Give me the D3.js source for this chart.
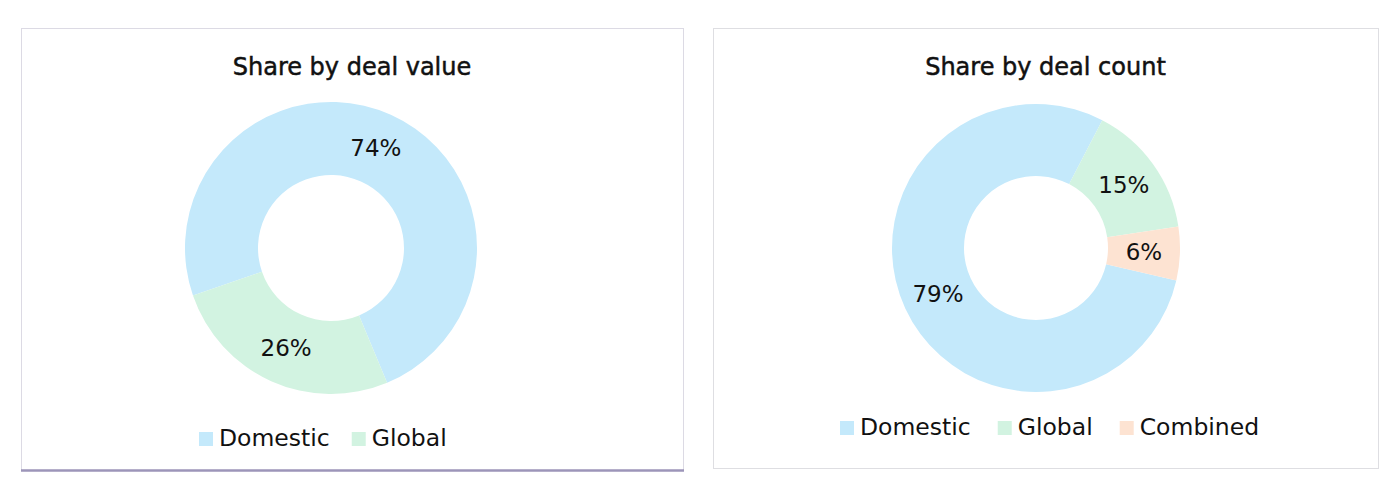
<!DOCTYPE html>
<html>
<head>
<meta charset="utf-8">
<script src="https://cdn.jsdelivr.net/npm/d3@7"></script>
<style>
  body { margin: 0; background: #fff; }
  text { font-family: "DejaVu Sans", sans-serif; fill: #111; }
</style>
</head>
<body>
<div id="chart"></div>
<script>
// data
const valueCategories = ['Domestic', 'Global'];
const valueShares = [74, 26];
const countCategories = ['Domestic', 'Global', 'Combined'];
const countShares = [79, 15, 6];
const colors = ['#c4e9fb', '#d2f3e1', '#fde3d2'];

const svg = d3.select('#chart').append('svg')
    .attr('width', 1400)
    .attr('height', 493);

function renderDonut(cfg) {
    const g = svg.append('g');

    // panel frame
    g.append('rect')
        .attr('x', cfg.x0 + 0.5).attr('y', 28.5)
        .attr('width', cfg.w).attr('height', cfg.h)
        .style('fill', '#fff')
        .style('stroke', cfg.frame)
        .style('stroke-width', 1);
    if (cfg.bottom) {
        g.append('line')
            .attr('x1', cfg.x0).attr('x2', cfg.x0 + cfg.w + 1)
            .attr('y1', 28.5 + cfg.h).attr('y2', 28.5 + cfg.h)
            .style('stroke', cfg.bottom)
            .style('stroke-width', 2.5);
    }

    // medium-weight title: regular face with a thin stroke
    g.append('text')
        .attr('x', cfg.x0 + cfg.w / 2).attr('y', 75)
        .attr('text-anchor', 'middle')
        .style('font-size', '24px')
        .style('stroke', '#111')
        .style('stroke-width', 0.5)
        .text(cfg.title);

    const pie = d3.pie().value(d => d).sort(null)
        .startAngle(cfg.start * Math.PI / 180)
        .endAngle((cfg.start + 360) * Math.PI / 180);
    const arc = d3.arc().outerRadius(cfg.r).innerRadius(cfg.r * 0.5);

    const slices = g.append('g')
        .attr('transform', `translate(${cfg.cx}, ${cfg.cy})`)
        .selectAll('.arc')
        .data(pie(cfg.values))
        .enter().append('g')
        .attr('class', 'arc');

    slices.append('path')
        .attr('d', arc)
        .style('fill', (d, i) => colors[i]);

    slices.append('text')
        .attr('transform', d => `translate(${arc.centroid(d)})`)
        .attr('text-anchor', 'middle')
        .attr('dy', '0.36em')
        .style('font-size', '23px')
        .text(d => d.data + '%');

    // legend
    const legend = g.append('g')
        .attr('transform', `translate(${cfg.lx}, ${cfg.ly})`);
    let lx = 0;
    cfg.cats.forEach((c, i) => {
        const item = legend.append('g').attr('transform', `translate(${lx}, 0)`);
        item.append('rect')
            .attr('x', 0).attr('y', -6)
            .attr('width', 14).attr('height', 14)
            .style('fill', colors[i]);
        const t = item.append('text')
            .attr('x', 20).attr('dy', '0.36em')
            .style('font-size', '23.5px')
            .text(c);
        lx += 20 + t.node().getComputedTextLength() + cfg.gap;
    });
}

renderDonut({
    x0: 21, w: 662, h: 442, frame: '#dcdae4', bottom: '#9c95b9',
    cx: 331, cy: 248, r: 146, start: 251, lx: 199, ly: 438, gap: 22,
    title: 'Share by deal value', values: valueShares, cats: valueCategories
});
renderDonut({
    x0: 713, w: 665, h: 440, frame: '#dedee2', bottom: null,
    cx: 1036, cy: 248, r: 144, start: 103, lx: 840, ly: 427, gap: 27,
    title: 'Share by deal count', values: countShares, cats: countCategories
});
</script>
</body>
</html>
